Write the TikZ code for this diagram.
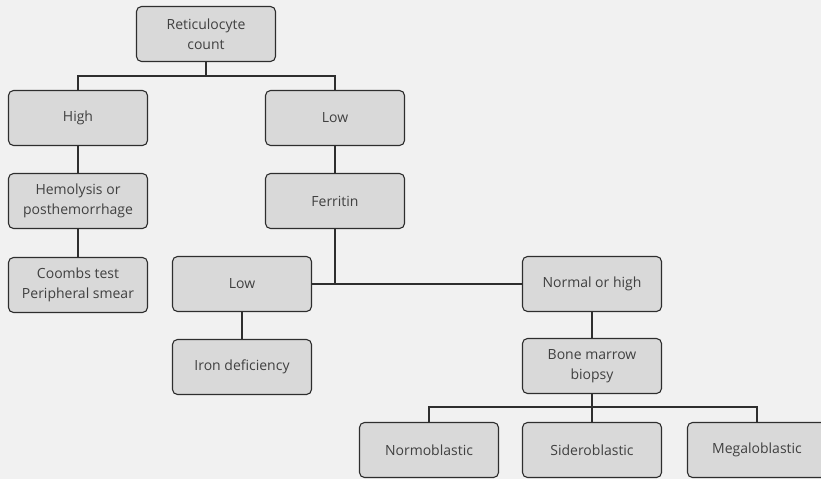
\documentclass[tikz,border=0pt]{standalone}
\usepackage{fontspec}
\setmainfont{Open Sans}
\begin{document}
\begin{tikzpicture}[x=1pt,y=-1pt,
  box/.style={draw=boxline, fill=boxfill, rounded corners=5pt, line width=1.1pt,
    minimum width=139pt, minimum height=55pt, inner sep=2pt, align=center,
    text=txt, font=\fontsize{14}{19.5}\selectfont},
  link/.style={draw=boxline, line width=1.3pt}]
\definecolor{bg}{HTML}{F1F1F1}
\definecolor{boxfill}{HTML}{D9D9D9}
\definecolor{boxline}{HTML}{2E2E2E}
\definecolor{txt}{HTML}{404040}
% page background
\fill[bg] (0,0) rectangle (821,479);
\useasboundingbox (0,0) rectangle (821,479);

% boxes
\node[box] (ret)   at (206,34)  {Reticulocyte\\count};
\node[box] (high)  at (78,118)  {High};
\node[box] (low)   at (335,118) {Low};
\node[box] (hemo)  at (78,201)  {Hemolysis or\\posthemorrhage};
\node[box] (ferr)  at (335,201) {Ferritin};
\node[box] (coomb) at (78,285)  {Coombs test\\Peripheral smear};
\node[box] (flow)  at (242,284) {Low};
\node[box] (norm)  at (592,284) {Normal or high};
\node[box] (iron)  at (242,367) {Iron deficiency};
\node[box] (bone)  at (592,366) {Bone marrow\\biopsy};
\node[box] (nbl)   at (429,450) {Normoblastic};
\node[box] (sbl)   at (592,450) {Sideroblastic};
\node[box] (mbl)   at (757,450) {Megaloblastic};

% junction points
\coordinate (j1) at (206,76);
\coordinate (j2) at (335,284);
\coordinate (j3) at (592,407);

% connectors
\draw[link] (ret.south) -- (j1);
\draw[link] (high.north) |- (j1) -| (low.north);
\draw[link] (high) -- (hemo);
\draw[link] (hemo) -- (coomb);
\draw[link] (low) -- (ferr);
\draw[link] (ferr.south) -- (j2);
\draw[link] (flow.east) -- (j2) -- (norm.west);
\draw[link] (flow) -- (iron);
\draw[link] (norm) -- (bone);
\draw[link] (bone.south) -- (j3);
\draw[link] (nbl.north) |- (j3) -| (mbl.north);
\draw[link] (j3) -- (sbl.north);
\end{tikzpicture}
\end{document}
